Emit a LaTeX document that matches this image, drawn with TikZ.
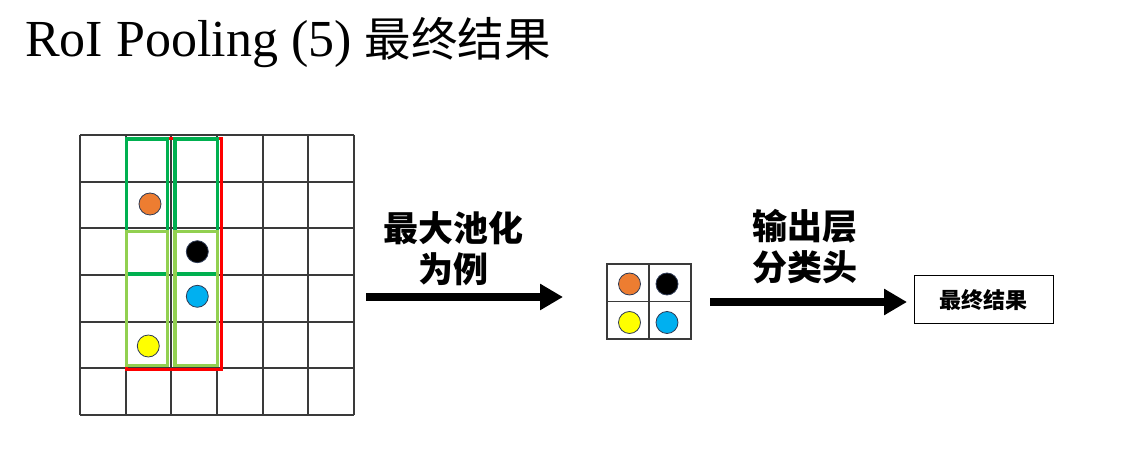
\documentclass[tikz,border=0pt]{standalone}
\usepackage{fontspec}
\setmainfont{Liberation Serif}
\newfontfamily\cjk{Noto Sans CJK SC}
\usetikzlibrary{arrows.meta}
\definecolor{dkgreen}{HTML}{00B050}
\definecolor{ltgreen}{HTML}{92D050}
\definecolor{myorange}{HTML}{ED7D31}
\definecolor{myblue}{HTML}{00B0F0}
\definecolor{myyellow}{HTML}{FFFF00}
\definecolor{gridgray}{HTML}{3A3A3A}
\definecolor{dotedge}{HTML}{2F3B55}
\begin{document}
\begin{tikzpicture}[x=1bp,y=-1bp,
 gridline/.style={draw=gridgray,line width=1.7bp},
 binA/.style={draw=dkgreen,line width=3.2bp},
 binB/.style={draw=ltgreen,line width=3.2bp},
 roi/.style={draw=red,line width=3bp},
 dot/.style={circle,draw=dotedge,line width=0.8bp,minimum size=22bp,inner sep=0},
 bigarrow/.style={line width=8bp,-{Triangle[length=23bp,width=25bp]}},
 lbl/.style={font=\cjk\bfseries\fontsize{35bp}{41bp}\selectfont,align=center,inner sep=0},
 resbox/.style={draw=black,line width=1.2bp,minimum width=139bp,minimum height=48bp,inner sep=0,font=\cjk\bfseries\fontsize{22bp}{26bp}\selectfont},
 poolbox/.style={draw=gridgray,line width=1.5bp,minimum width=84bp,minimum height=75bp,inner sep=0},
 poolline/.style={draw=gridgray,line width=1.5bp},
]
\useasboundingbox (0,0) rectangle (1144,456);
% title
\node[anchor=base west,inner sep=0,font=\fontsize{52bp}{62bp}\selectfont] (title) at (25,57) {RoI Pooling (5) {\cjk\fontsize{46.5bp}{56bp}\selectfont 最终结果}};
% feature map grid
\node[inner sep=0,minimum width=274bp,minimum height=280bp] (fmap) at (217,275) {};
\foreach \i in {0,...,6} {
  \draw[gridline] ({80+\i*45.667},135) -- ({80+\i*45.667},415);
  \draw[gridline] (80,{135+\i*46.667}) -- (354,{135+\i*46.667});
}
% RoI and bins
\draw[roi] (126.7,139) rectangle (221.5,369.5);
\draw[binA] (126.7,139) rectangle (167.7,274);
\draw[binA] (175,139) rectangle (217.7,274);
\draw[binB] (126.7,231.7) rectangle (167.7,365.7);
\draw[binB] (175,231.7) rectangle (217.7,365.7);
% dots on the map
\node[dot,fill=myorange] (d1) at (150,204) {};
\node[dot,fill=black] (d2) at (197.3,251.7) {};
\node[dot,fill=myblue] (d3) at (197.3,296.3) {};
\node[dot,fill=myyellow] (d4) at (148.3,346) {};
% arrow 1
\coordinate (a1s) at (366,297);
\coordinate (a1e) at (563,297);
\draw[bigarrow] (a1s) -- (a1e);
\node[lbl] (l1) at (453,249) {最大池化\\为例};
% pooled output
\node[poolbox] (pool) at (649.2,301.7) {};
\draw[poolline] (pool.north) -- (pool.south);
\draw[poolline] (pool.west) -- (pool.east);
\node[dot,fill=myorange] (p1) at (629.5,284) {};
\node[dot,fill=black] (p2) at (667,284) {};
\node[dot,fill=myyellow] (p3) at (629.5,322.5) {};
\node[dot,fill=myblue] (p4) at (667,322.5) {};
% arrow 2
\coordinate (a2s) at (710,302);
\coordinate (a2e) at (907,302);
\draw[bigarrow] (a2s) -- (a2e);
\node[lbl] (l2) at (805,247) {输出层\\分类头};
% result
\node[resbox] (res) at (983.8,299.9) {最终结果};
\end{tikzpicture}
\end{document}
